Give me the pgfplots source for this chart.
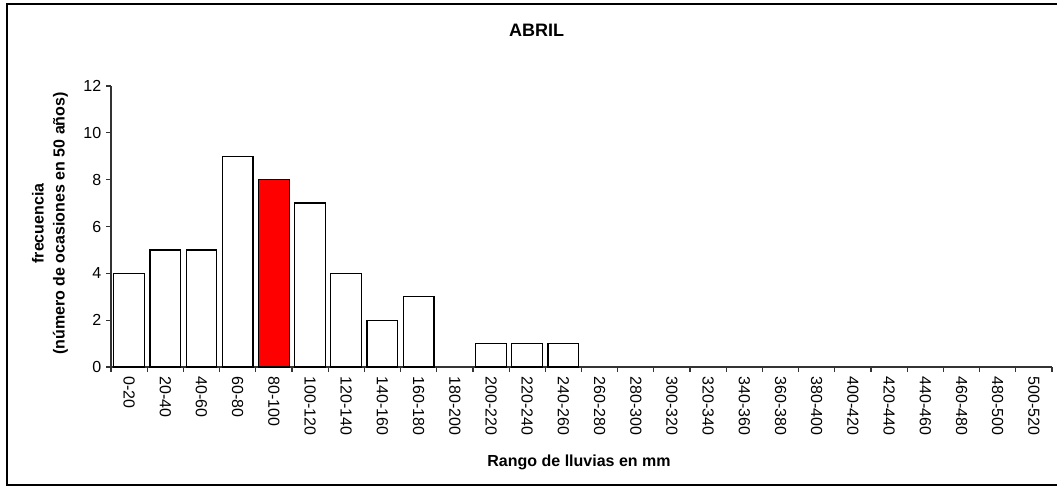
\documentclass[border=0pt]{standalone}
\usepackage{fontspec}
\setmainfont{Liberation Sans}
\usepackage{pgfplots}
\pgfplotsset{compat=1.18}
\begin{document}
\begin{tikzpicture}
\useasboundingbox (0pt,0pt) rectangle (792.75pt,369pt);
\draw[line width=1.1pt,black] (800pt,366pt) -- (5.25pt,366pt) -- (5.25pt,5.25pt) -- (800pt,5.25pt);
\begin{axis}[
  at={(83.25pt,93.75pt)}, anchor=south west,
  scale only axis, width=705.75pt, height=210.75pt,
  xmin=-0.5, xmax=25.5, ymin=0, ymax=12,
  axis x line=bottom, axis y line=left,
  axis line style={-, line width=1pt, black!80},
  tick align=outside,
  major tick length=3.75pt, minor tick length=3.75pt,
  every tick/.style={black!80, line width=0.9pt},
  xtick={0,...,25},
  major x tick style={draw=none},
  minor xtick={-0.5,0.5,...,25.5},
  xticklabels={0-20,20-40,40-60,60-80,80-100,100-120,120-140,140-160,160-180,180-200,200-220,220-240,240-260,260-280,280-300,300-320,320-340,340-360,360-380,380-400,400-420,420-440,440-460,460-480,480-500,500-520},
  xticklabel style={rotate=-90, anchor=west, font=\fontsize{12}{14}\selectfont},
  ytick={0,2,...,12},
  yticklabel style={font=\fontsize{12}{14}\selectfont},
  /pgf/number format/assume math mode=true,
  ybar, bar width=0.85, bar shift=0pt,
  clip=false,
]
\addplot[fill=white, draw=black, line width=0.9pt] coordinates {
 (0,4) (1,5) (2,5) (3,9) (5,7) (6,4) (7,2) (8,3) (10,1) (11,1) (12,1)
};
\addplot[fill=red, draw=black, line width=0.9pt] coordinates {(4,8)};
\end{axis}
\node[anchor=base, font=\bfseries\fontsize{13.5}{16}\selectfont] at (402.4pt,341.25pt) {ABRIL};
\node[anchor=base, font=\bfseries\fontsize{12}{14}\selectfont] at (434.25pt,18.75pt) {Rango de lluvias en mm};
\node[rotate=90, align=center, font=\bfseries\fontsize{12}{15.75}\selectfont] at (37.5pt,201.4pt) {frecuencia\\(número de ocasiones en 50 años)};
\end{tikzpicture}
\end{document}
